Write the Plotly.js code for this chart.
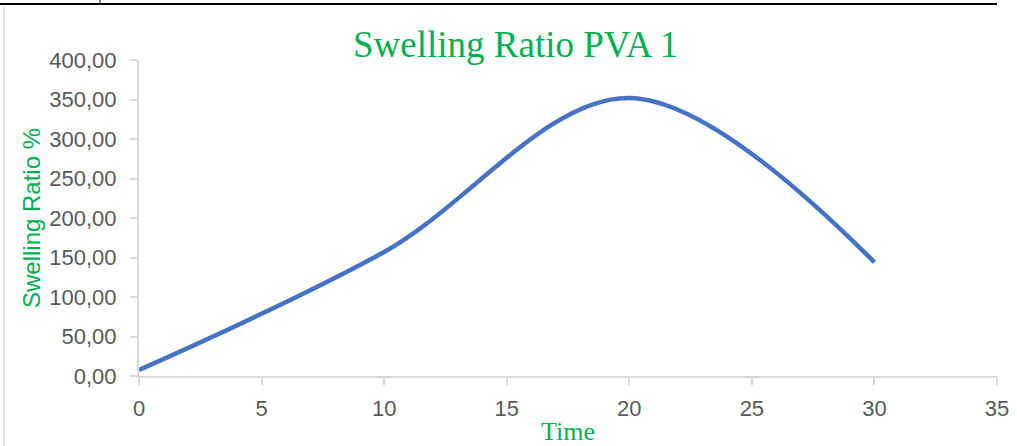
<!DOCTYPE html>
<html>
<head>
<meta charset="utf-8">
<script src="https://cdn.plot.ly/plotly-3.0.1.min.js"></script>
<style>
html,body{margin:0;padding:0;background:#fff;}
#chart{width:1017px;height:446px;}
</style>
</head>
<body>
<div id="chart"></div>
<script>
const time = [0, 10, 20, 30];
const swellingRatio = [7.6, 157, 352, 144];
const chartTitle = "Swelling Ratio PVA 1";
const xTitle = "Time";
const yTitle = "Swelling Ratio %";

const green = "#00B050";
const axisGray = "#D9D9D9";
const tickGray = "#595959";

const trace = {
  x: time,
  y: swellingRatio,
  type: "scatter",
  mode: "lines",
  line: {color: "#4472C4", width: 4.5, shape: "spline", smoothing: 1},
  hoverinfo: "x+y"
};

const layout = {
  width: 1017,
  height: 446,
  margin: {l: 139, r: 20, t: 60, b: 70},
  paper_bgcolor: "#fff",
  plot_bgcolor: "#fff",
  separators: ", ",
  showlegend: false,
  title: {
    text: chartTitle,
    font: {family: "Liberation Serif, Times New Roman, serif", size: 37, color: green},
    xref: "container", x: 0.507, xanchor: "center",
    yref: "container", y: 0.93, yanchor: "top"
  },
  xaxis: {
    range: [0, 35],
    tickvals: [0, 5, 10, 15, 20, 25, 30, 35],
    showgrid: false, zeroline: false,
    showline: true, linecolor: axisGray, linewidth: 2,
    ticks: "outside", ticklen: 7, tickcolor: axisGray, tickwidth: 2,
    ticklabelstandoff: 5,
    tickfont: {family: "Liberation Sans, Arial, sans-serif", size: 22, color: tickGray},
    title: {text: xTitle, font: {family: "Liberation Serif, Times New Roman, serif", size: 26, color: green}, standoff: 4}
  },
  yaxis: {
    range: [0, 400],
    tickvals: [0, 50, 100, 150, 200, 250, 300, 350, 400],
    tickformat: ".2f",
    showgrid: false, zeroline: false,
    showline: true, linecolor: axisGray, linewidth: 2,
    ticks: "outside", ticklen: 7, tickcolor: axisGray, tickwidth: 2,
    ticklabelstandoff: 9,
    tickfont: {family: "Liberation Sans, Arial, sans-serif", size: 22, color: tickGray},
    title: {text: yTitle, font: {family: "Liberation Sans, Arial, sans-serif", size: 24, color: green}, standoff: 2}
  },
  shapes: [
    {type: "line", xref: "paper", yref: "paper", x0: -139/858, x1: 1, y0: 1 + 56/316, y1: 1 + 56/316,
     line: {color: "#000", width: 2}},
    {type: "line", xref: "paper", yref: "paper", x0: (100-139)/858, x1: (100-139)/858, y0: 1 + 56/316, y1: 1 + 60/316,
     line: {color: "#000", width: 1}},
    {type: "line", xref: "paper", yref: "paper", x0: (4-139)/858, x1: (4-139)/858, y0: -70/316, y1: 1 + 53/316,
     line: {color: "#D9D9D9", width: 1.5}}
  ]
};

Plotly.newPlot("chart", [trace], layout, {displayModeBar: false, staticPlot: true});
</script>
</body>
</html>
